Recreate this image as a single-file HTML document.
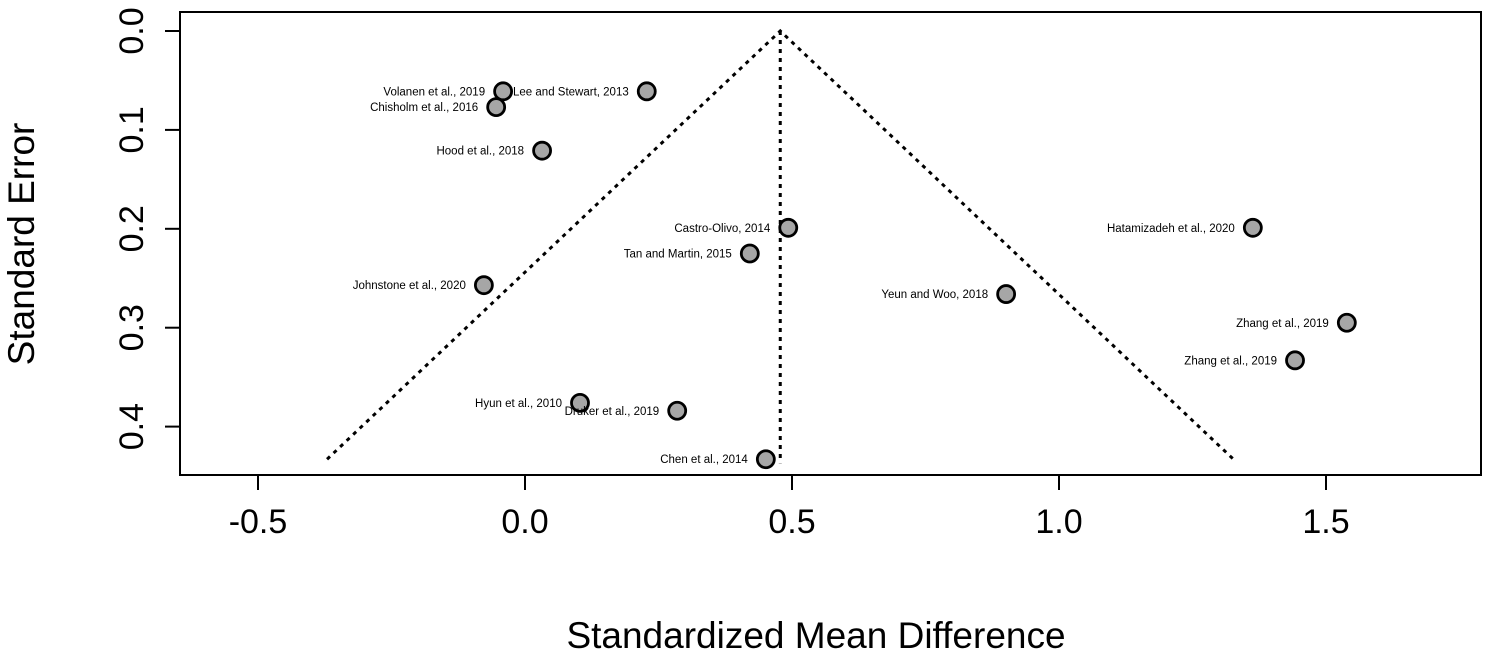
<!DOCTYPE html>
<html><head><meta charset="utf-8"><style>
body{margin:0;background:#fff}
svg{display:block;font-family:"Liberation Sans",Arial,sans-serif}
</style></head><body>
<svg id="chart" width="1487" height="657" viewBox="0 0 1487 657" xmlns="http://www.w3.org/2000/svg">
<rect x="180" y="12" width="1301" height="463" fill="none" stroke="#000" stroke-width="2"/>
<g id="axes"></g>
<g id="funnel"></g>
<g id="points"></g>
<text x="816" y="648" font-size="37" text-anchor="middle">Standardized Mean Difference</text>
<text transform="translate(34,244) rotate(-90)" font-size="37" text-anchor="middle">Standard Error</text>
</svg>
<script>
const studies=["Volanen et al., 2019","Lee and Stewart, 2013","Chisholm et al., 2016","Hood et al., 2018","Castro-Olivo, 2014","Tan and Martin, 2015","Johnstone et al., 2020","Hatamizadeh et al., 2020","Yeun and Woo, 2018","Zhang et al., 2019","Zhang et al., 2019","Hyun et al., 2010","Druker et al., 2019","Chen et al., 2014"];
const smd=[-0.041,0.228,-0.054,0.032,0.493,0.421,-0.077,1.363,0.901,1.539,1.442,0.103,0.285,0.451];
const se=[0.061,0.061,0.077,0.121,0.199,0.225,0.257,0.199,0.266,0.295,0.333,0.376,0.384,0.433];
const xTicks=[-0.5,0.0,0.5,1.0,1.5];
const yTicks=[0.0,0.1,0.2,0.3,0.4];
const pooled=0.478;
const seMax=0.433;
const NS="http://www.w3.org/2000/svg";
const X=v=>525+v*534, Y=v=>31+v*989;
function mk(tag,attrs,parent){const e=document.createElementNS(NS,tag);for(const k in attrs)e.setAttribute(k,attrs[k]);parent.appendChild(e);return e;}
const ax=document.getElementById('axes');
xTicks.forEach(t=>{
 const l=mk('line',{x1:X(t),x2:X(t),y1:475,y2:490,stroke:'#000','stroke-width':2},ax);
 
 
 const tx=mk('text',{x:X(t),y:533,'font-size':34,'text-anchor':'middle'},ax);
 tx.textContent=t.toFixed(1);
 
 
});
yTicks.forEach(t=>{
 const l=mk('line',{x1:165,x2:180,y1:Y(t),y2:Y(t),stroke:'#000','stroke-width':2},ax);
 
 
 const tx=mk('text',{transform:`translate(143,${Y(t)}) rotate(-90)`,'font-size':34,'text-anchor':'middle'},ax);
 tx.textContent=t.toFixed(1);
 
 
});
const fn=document.getElementById('funnel');
const d=`M${X(pooled-1.96*seMax)},${Y(seMax)} L${X(pooled)},${Y(0)} L${X(pooled+1.96*seMax)},${Y(seMax)}`;
const fp=mk('path',{d:d,fill:'none',stroke:'#000','stroke-width':3,'stroke-dasharray':'4,5'},fn);


const vl=mk('line',{x1:X(pooled),x2:X(pooled),y1:Y(0),y2:Y(seMax)+4,stroke:'#000','stroke-width':3,'stroke-dasharray':'4,5'},fn);


const pg=document.getElementById('points');
studies.forEach((s,i)=>{
 const c=mk('circle',{cx:X(smd[i]),cy:Y(se[i]),r:8.5,fill:'#a6a6a6',stroke:'#000','stroke-width':2.8},pg);
 
 
 const t=mk('text',{x:X(smd[i])-18,y:Y(se[i])+4,'font-size':11.5,'text-anchor':'end'},pg);
 t.textContent=s;
 
 
});
</script>
</body></html>
